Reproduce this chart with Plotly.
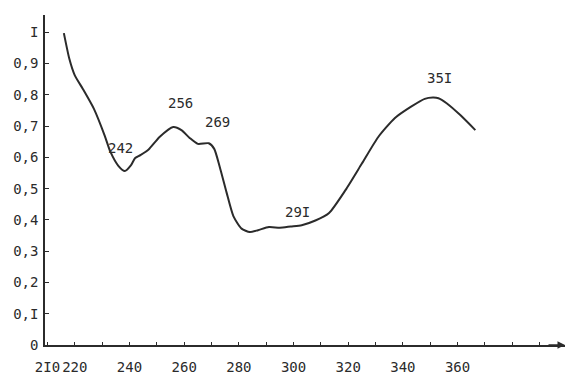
import plotly.graph_objects as go

# Absorption spectrum: wavelength (nm) vs. optical density
wavelength = [216, 218, 220, 223, 227, 231, 233, 236, 238.3, 240.5, 242, 244, 247,
              251, 256, 259, 262, 265, 269, 271, 273, 275.5, 278, 281, 284,
              287, 291, 295, 299, 303, 308, 313, 319, 325, 331, 337, 343,
              348, 351, 353, 356, 361, 366.5]
density = [0.997, 0.915, 0.862, 0.818, 0.755, 0.668, 0.618, 0.572, 0.556, 0.574, 0.597,
           0.607, 0.625, 0.665, 0.697, 0.687, 0.662, 0.643, 0.645, 0.627, 0.570,
           0.488, 0.412, 0.372, 0.361, 0.367, 0.377, 0.375, 0.379, 0.383, 0.398,
           0.422, 0.495, 0.580, 0.665, 0.725, 0.762, 0.787, 0.791, 0.789, 0.773,
           0.735, 0.687]

# Marked band positions (nm) and their labels
band_nm = [242, 256, 269, 291, 351]
band_text = ["242", "256", "269", "29I", "35I"]
band_shift = [(-14, 10), (7, 24), (9, 21), (29, 15), (7, 20)]

x_ticks = [210, 220, 240, 260, 280, 300, 320, 340, 360]
x_tick_text = ["2I0", "220", "240", "260", "280", "300", "320", "340", "360"]
y_ticks = [0, 0.1, 0.2, 0.3, 0.4, 0.5, 0.6, 0.7, 0.8, 0.9, 1.0]
y_tick_text = ["0", "0,I", "0,2", "0,3", "0,4", "0,5", "0,6", "0,7", "0,8", "0,9", "I"]

FONT = "DejaVu Sans Mono"
INK = "#2b2b2b"

fig = go.Figure()
fig.add_trace(go.Scatter(
    x=wavelength, y=density, mode="lines",
    line=dict(color=INK, width=2, shape="spline", smoothing=0.6),
    hoverinfo="skip", showlegend=False,
))

for nm, txt, (dx, dy) in zip(band_nm, band_text, band_shift):
    yv = density[wavelength.index(nm)]
    fig.add_annotation(x=nm, y=yv, text=txt, showarrow=False,
                       xshift=dx, yshift=dy,
                       font=dict(family=FONT, size=14, color=INK))

# arrowhead at the end of the wavelength axis
fig.add_annotation(x=1.0, y=0, xref="paper", yref="paper", text="",
                   showarrow=True, ax=-18, ay=0, arrowhead=2, arrowsize=1,
                   arrowwidth=1.5, arrowcolor=INK)

fig.update_layout(
    width=569, height=380,
    margin=dict(l=45, r=4, t=15, b=35),
    paper_bgcolor="white", plot_bgcolor="white",
    font=dict(family=FONT, size=14, color=INK),
    xaxis=dict(range=[209.1, 399.3], tickvals=x_ticks, ticktext=x_tick_text,
               showgrid=False, zeroline=False, showline=True, linecolor=INK,
               linewidth=1.5, ticks="inside", ticklen=3, tickcolor=INK,
               minor=dict(dtick=10, tick0=210, ticks="inside", ticklen=3,
                          tickcolor=INK, showgrid=False),
               ticklabelstandoff=8),
    yaxis=dict(range=[0, 1.055], tickvals=y_ticks, ticktext=y_tick_text,
               showgrid=False, zeroline=False, showline=True, linecolor=INK,
               linewidth=1.5, ticks="inside", ticklen=4, tickcolor=INK,
               ticklabelstandoff=2),
)

fig.write_html("out.html")
